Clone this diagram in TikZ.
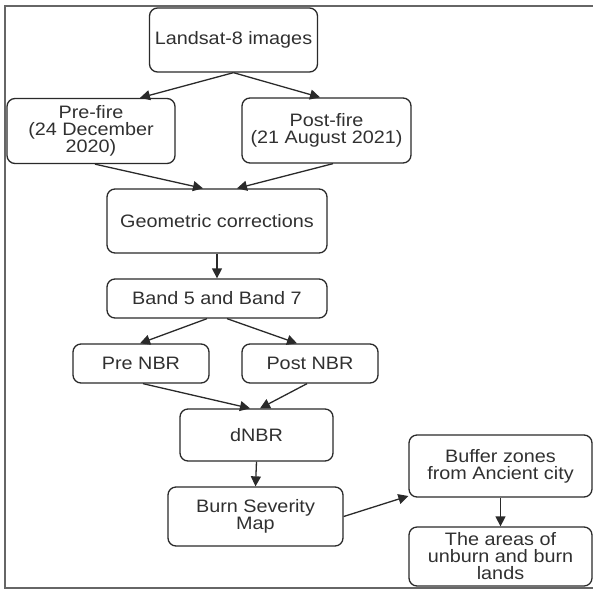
\documentclass[tikz,border=0pt]{standalone}
\usepackage{fontspec}
\setmainfont[FakeStretch=1.1]{Liberation Sans}
\usetikzlibrary{arrows.meta,calc}
\definecolor{txt}{HTML}{303030}
\definecolor{edge}{HTML}{2A2A2A}
\begin{document}
\begin{tikzpicture}[x=1pt,y=-1pt,
  box/.style={draw=edge,line width=1.3pt,rounded corners=8pt,align=center,
    text=txt,font=\fontsize{18}{17}\selectfont,inner sep=2pt},
  arr/.style={draw=edge,line width=1.3pt,-{Triangle[length=10pt,width=10pt]}}]
\useasboundingbox (0,0) rectangle (593,589);
\draw[line width=1.3pt,draw=gray!80!black] (593,6) -- (5,6) -- (5,588) -- (593,588);
\node[box,minimum width=168pt,minimum height=64pt] (land) at (233.5,40) {Landsat-8 images};
\node[box,minimum width=168pt,minimum height=65pt] (pre) at (91,131) {Pre-fire\\(24 December\\2020)};
\node[box,minimum width=169pt,minimum height=65pt] (post) at (326.5,130.5) {Post-fire\\(21 August 2021)};
\node[box,minimum width=220pt,minimum height=64pt] (geom) at (217,221) {Geometric corrections};
\node[box,minimum width=220pt,minimum height=39pt] (band) at (217,298.5) {Band 5 and Band 7};
\node[box,minimum width=136pt,minimum height=39pt] (prenbr) at (141,363.5) {Pre NBR};
\node[box,minimum width=136pt,minimum height=39pt] (postnbr) at (310,363.5) {Post NBR};
\node[box,minimum width=153pt,minimum height=52pt] (dnbr) at (256.5,435) {dNBR};
\node[box,minimum width=175pt,minimum height=59pt] (burn) at (255.5,516.5) {Burn Severity\\Map};
\node[box,minimum width=183pt,minimum height=62pt] (buffer) at (500.5,466) {Buffer zones\\from Ancient city};
\node[box,minimum width=183pt,minimum height=59pt] (areas) at (500.5,556.5) {The areas of\\unburn and burn\\lands};
\draw[arr] (land.south) -- ([xshift=49pt]pre.north);
\draw[arr] (land.south) -- ([xshift=-6.5pt]post.north);
\draw[arr] ([xshift=4pt]pre.south) -- ([xshift=-14pt]geom.north);
\draw[arr] ([xshift=6.5pt]post.south) -- ([xshift=20pt]geom.north);
\draw[arr] (geom.south) -- (band.north);
\draw[arr] ([xshift=-10pt]band.south) -- ([xshift=-1pt]prenbr.north);
\draw[arr] ([xshift=10pt]band.south) -- ([xshift=-13pt]postnbr.north);
\draw[arr] ([xshift=2pt]prenbr.south) -- ([xshift=-6.5pt]dnbr.north);
\draw[arr] ([xshift=-3pt]postnbr.south) -- ([xshift=3.5pt]dnbr.north);
\draw[arr] (dnbr.south) -- (burn.north);
\draw[arr] (burn.east) -- ([yshift=-30pt]buffer.west);
\draw[arr] (buffer.south) -- (areas.north);
\end{tikzpicture}
\end{document}
